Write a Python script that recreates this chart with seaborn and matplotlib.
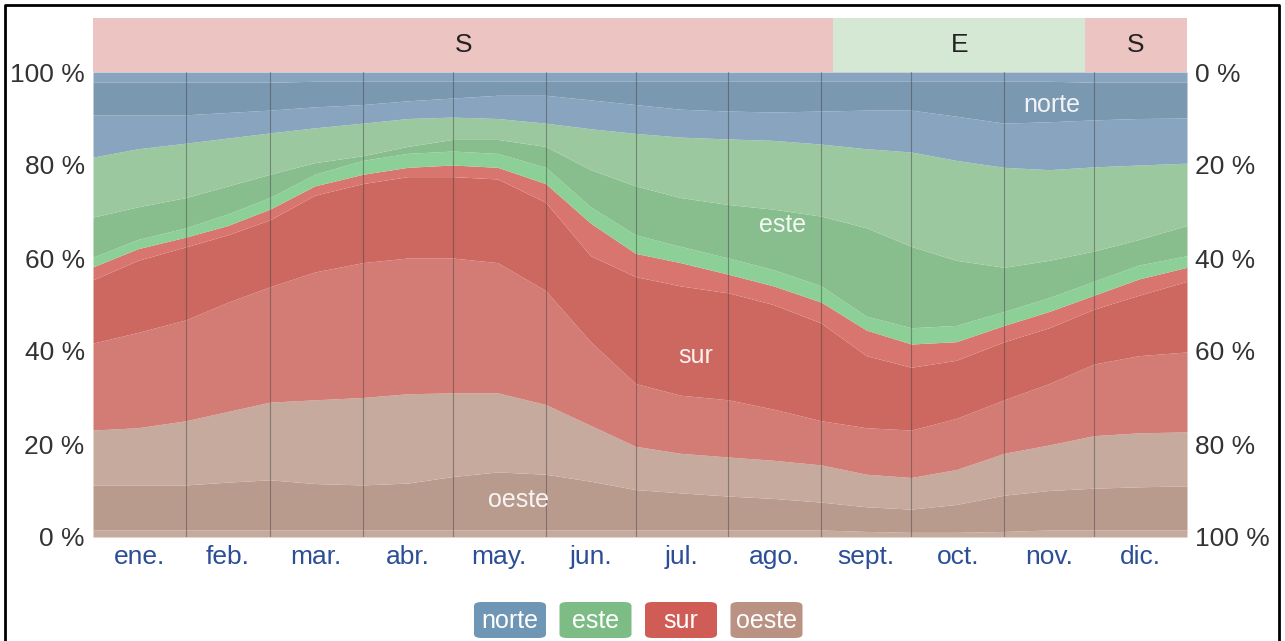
"""
Dirección del viento: porcentaje de horas por dirección cardinal a lo largo del año.
Áreas apiladas (con las franjas claras de las direcciones intermedias) + barra superior
con la dirección dominante.
"""

import matplotlib
matplotlib.use("Agg")  # sin pantalla
import matplotlib.pyplot as plt
from matplotlib import font_manager
from matplotlib.patches import FancyBboxPatch
import seaborn as sns

# Datos -------------------------------------------------------------------
# día del año de cada lectura
DAYS = [0, 15, 31, 45, 59, 74, 90, 105, 120, 135, 151, 166, 181, 196, 212,
        227, 243, 258, 273, 288, 304, 319, 334, 349, 365]

# límites acumulados (%) de abajo hacia arriba
OESTE_NO_TOP = [1.5, 1.5, 1.5, 1.5, 1.5, 1.5, 1.5, 1.5, 1.5, 1.5, 1.5, 1.5, 1.5,
                1.5, 1.5, 1.5, 1.5, 1.2, 1.0, 1.0, 1.2, 1.5, 1.5, 1.5, 1.5]
OESTE_TOP = [11.2, 11.2, 11.2, 11.8, 12.3, 11.5, 11.2, 11.6, 13.0, 14.0, 13.5, 12.0, 10.2,
             9.5, 8.8, 8.3, 7.5, 6.5, 6.0, 7.0, 9.0, 10.0, 10.5, 10.8, 11.0]
OESTE_SO_TOP = [23.0, 23.5, 25.0, 27.0, 29.0, 29.5, 30.0, 30.8, 31.0, 31.0, 28.5, 24.0, 19.5,
                18.0, 17.2, 16.5, 15.5, 13.5, 12.8, 14.5, 18.0, 19.8, 21.8, 22.4, 22.6]
SUR_SO_TOP = [41.7, 44.0, 46.7, 50.5, 53.8, 57.0, 59.0, 60.0, 60.0, 59.0, 53.0, 42.0, 33.0,
              30.5, 29.5, 27.5, 25.0, 23.5, 23.0, 25.5, 29.5, 33.0, 37.2, 39.0, 39.8]
SUR_TOP = [55.3, 59.5, 62.4, 65.0, 68.2, 73.5, 76.0, 77.5, 77.5, 77.0, 72.0, 60.5, 56.0,
           54.0, 52.5, 50.0, 46.0, 39.0, 36.5, 38.0, 42.0, 45.0, 49.0, 52.0, 55.0]
SUR_SE_TOP = [58.1, 62.0, 64.5, 67.0, 70.5, 75.5, 78.0, 79.5, 80.0, 79.5, 76.0, 67.5, 61.0,
              59.0, 56.5, 54.0, 50.5, 44.5, 41.5, 42.0, 45.5, 48.5, 52.0, 55.5, 58.0]
ESTE_SE_TOP = [60.2, 64.0, 66.5, 69.5, 73.0, 78.0, 81.0, 82.5, 83.0, 82.5, 79.5, 71.0, 65.0,
               62.5, 60.0, 57.5, 54.0, 47.5, 45.0, 45.5, 48.5, 51.5, 55.0, 58.5, 60.5]
ESTE_TOP = [68.8, 71.0, 73.0, 75.5, 78.0, 80.5, 82.0, 84.0, 85.5, 85.5, 84.0, 79.0, 75.5,
            73.0, 71.5, 70.5, 69.0, 66.5, 62.5, 59.5, 58.0, 59.5, 61.5, 64.0, 67.0]
ESTE_NE_TOP = [81.7, 83.5, 84.7, 85.8, 86.9, 88.0, 89.0, 90.0, 90.3, 90.0, 89.0, 87.8, 86.8,
               86.0, 85.6, 85.3, 84.5, 83.5, 82.8, 81.0, 79.5, 79.0, 79.6, 80.0, 80.4]
NORTE_NE_TOP = [90.8, 90.8, 90.8, 91.3, 91.8, 92.5, 93.0, 93.8, 94.4, 95.0, 95.0, 94.0, 93.0,
                92.0, 91.6, 91.4, 91.6, 91.8, 91.8, 90.5, 89.0, 89.3, 89.7, 90.0, 90.1]
NORTE_TOP = [97.8, 97.8, 97.8, 97.8, 97.8, 98.0, 98.0, 98.0, 98.0, 98.0, 98.0, 98.0, 98.0,
             98.0, 98.0, 98.0, 98.0, 98.0, 98.0, 98.0, 98.0, 98.0, 97.8, 97.8, 97.8]
TOTAL = [100.0] * len(DAYS)

MONTHS = ["ene.", "feb.", "mar.", "abr.", "may.", "jun.", "jul.", "ago.",
          "sept.", "oct.", "nov.", "dic."]
MONTH_DAYS = [31, 28, 31, 30, 31, 30, 31, 31, 30, 31, 30, 31]

# dirección dominante (barra superior)
DOMINANT = ["S", "E", "S"]
DOMINANT_START = [0, 247, 331]
DOMINANT_END = [247, 331, 365]

LABELS = ["norte", "este", "sur", "oeste"]

# Colores -----------------------------------------------------------------
C_OESTE = "#b99b8e"
C_OESTE_L = "#c5aa9d"
C_SUR = "#cc685f"
C_SUR_L = "#d37c75"
C_SUR_SE = "#d8756f"
C_ESTE = "#88bd8d"
C_ESTE_L = "#9cc89f"
C_ESTE_SE = "#8ccf97"
C_NORTE = "#7a98b0"
C_NORTE_L = "#88a4bf"
BANNER = {"S": "#ecc5c3", "E": "#d5e8d3"}
LEGEND_COLORS = ["#6f96b4", "#7dbd85", "#cf5c55", "#b99283"]

fams = {f.name for f in font_manager.fontManager.ttflist}
FONT = [f for f in ["Liberation Sans Narrow", "Liberation Sans"] if f in fams] + ["DejaVu Sans"]


def main():
    sns.set_theme(style="white")
    plt.rcParams["font.family"] = FONT

    fig = plt.figure(figsize=(12.85, 6.41), dpi=100)
    W, H = 1285, 641
    ax = fig.add_axes([93 / W, (H - 537) / H, (1187 - 93) / W, (537 - 72) / H])

    bands = [
        (None, OESTE_NO_TOP, C_OESTE_L),
        (OESTE_NO_TOP, OESTE_TOP, C_OESTE),
        (OESTE_TOP, OESTE_SO_TOP, C_OESTE_L),
        (OESTE_SO_TOP, SUR_SO_TOP, C_SUR_L),
        (SUR_SO_TOP, SUR_TOP, C_SUR),
        (SUR_TOP, SUR_SE_TOP, C_SUR_SE),
        (SUR_SE_TOP, ESTE_SE_TOP, C_ESTE_SE),
        (ESTE_SE_TOP, ESTE_TOP, C_ESTE),
        (ESTE_TOP, ESTE_NE_TOP, C_ESTE_L),
        (ESTE_NE_TOP, NORTE_NE_TOP, C_NORTE_L),
        (NORTE_NE_TOP, NORTE_TOP, C_NORTE),
        (NORTE_TOP, TOTAL, C_NORTE_L),
    ]
    for low, high, color in bands:
        ax.fill_between(DAYS, 0 if low is None else low, high, color=color, lw=0)

    # separadores de mes
    edge = 0
    for d in MONTH_DAYS[:-1]:
        edge += d
        ax.axvline(edge, color="#3c3c3c", lw=0.8, alpha=0.45)

    ax.set_xlim(0, 365)
    ax.set_ylim(0, 100)
    mids, edge = [], 0
    for d in MONTH_DAYS:
        mids.append(edge + d / 2)
        edge += d
    ax.set_xticks(mids)
    ax.set_xticklabels(MONTHS, color="#2c4e96", fontsize=19)
    ax.set_yticks([0, 20, 40, 60, 80, 100])
    ax.set_yticklabels([f"{v} %" for v in [0, 20, 40, 60, 80, 100]], color="#333333", fontsize=19)
    ax.tick_params(axis="both", length=0, pad=6)
    for s in ax.spines.values():
        s.set_visible(False)

    ax2 = ax.twinx()
    ax2.set_ylim(100, 0)
    ax2.set_yticks([0, 20, 40, 60, 80, 100])
    ax2.set_yticklabels([f"{v} %" for v in [0, 20, 40, 60, 80, 100]], color="#333333", fontsize=19)
    ax2.tick_params(axis="y", length=0, pad=6)
    for s in ax2.spines.values():
        s.set_visible(False)

    # etiquetas dentro de las áreas
    txt = dict(color="white", fontsize=18, ha="center", va="center", alpha=0.9)
    ax.text(320, 93, "norte", **txt)
    ax.text(230, 67, "este", **txt)
    ax.text(201, 39, "sur", **txt)
    ax.text(142, 8, "oeste", **txt)

    # barra superior con la dirección dominante
    axb = fig.add_axes([93 / W, (H - 72) / H, (1187 - 93) / W, (72 - 18) / H], sharex=ax)
    for lab, a, b in zip(DOMINANT, DOMINANT_START, DOMINANT_END):
        axb.axvspan(a, b, color=BANNER[lab], lw=0)
        axb.text((a + b) / 2, 0.5, lab, ha="center", va="center", fontsize=19, color="#222222")
    axb.set_ylim(0, 1)
    axb.axis("off")

    # leyenda
    x0 = 474
    for lab, col in zip(LABELS, LEGEND_COLORS):
        box = FancyBboxPatch((x0 / W, (H - 638) / H), 72 / W, 36 / H,
                             boxstyle="round,pad=0,rounding_size=0.006",
                             transform=fig.transFigure, fc=col, ec="none")
        fig.patches.append(box)
        fig.text((x0 + 36) / W, (H - 621) / H, lab, color="white", fontsize=18,
                 ha="center", va="center")
        x0 += 85.5

    # marco exterior
    fig.add_artist(plt.Line2D([5 / W, 5 / W, 1279 / W, 1279 / W], [0, (H - 5) / H, (H - 5) / H, 0],
                              transform=fig.transFigure, color="black", lw=2))

    fig.savefig("out.png", dpi=100)
    plt.close(fig)


if __name__ == "__main__":
    main()
